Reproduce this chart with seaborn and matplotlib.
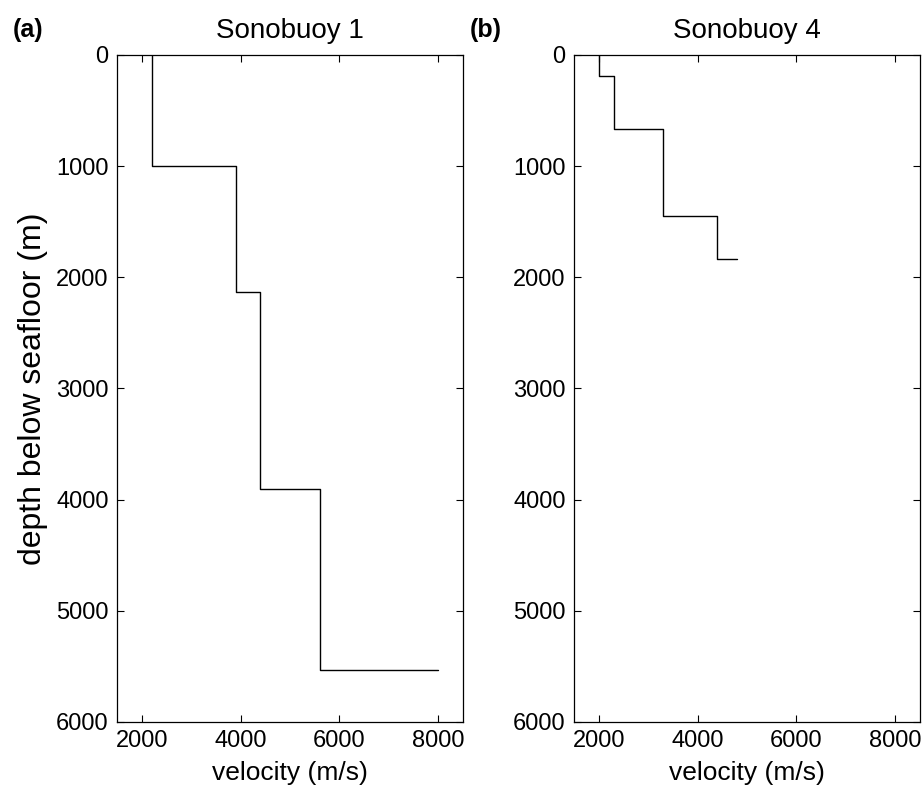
import numpy as np
import pandas as pd
import matplotlib
matplotlib.use("Agg")
import matplotlib.pyplot as plt
import seaborn as sns

# Layer velocities (m/s) and layer-top depths (m) below seafloor
s1_velocity = [2200, 3900, 4400, 5600, 8000]
s1_top_depth = [0, 1000, 2130, 3900, 5530]
s4_velocity = [2000, 2300, 3300, 4400, 4800]
s4_top_depth = [0, 190, 670, 1450, 1840]

titles = ["Sonobuoy 1", "Sonobuoy 4"]
panel_tags = ["(a)", "(b)"]
x_ticks = [2000, 4000, 6000, 8000]
y_ticks = [0, 1000, 2000, 3000, 4000, 5000, 6000]


def staircase(vel, tops):
    xs, ys = [], []
    for i in range(len(vel) - 1):
        xs += [vel[i], vel[i]]
        ys += [tops[i], tops[i + 1]]
    xs.append(vel[-1])
    ys.append(tops[-1])
    return pd.DataFrame({"velocity": xs, "depth": ys})


sns.set_style("ticks")
plt.rcParams["font.family"] = ["Liberation Sans", "DejaVu Sans"]
plt.rcParams["text.color"] = "black"
plt.rcParams["axes.labelcolor"] = "black"
plt.rcParams["xtick.color"] = "black"
plt.rcParams["ytick.color"] = "black"

fig = plt.figure(figsize=(9.23, 7.88), dpi=100)
positions = [[0.1268, 0.0838, 0.3748, 0.8465],
             [0.6219, 0.0838, 0.3748, 0.8465]]
datasets = [(s1_velocity, s1_top_depth), (s4_velocity, s4_top_depth)]

for k, (pos, (vel, tops)) in enumerate(zip(positions, datasets)):
    ax = fig.add_axes(pos)
    df = staircase(vel, tops)
    sns.lineplot(data=df, x="velocity", y="depth", sort=False, estimator=None,
                 color="black", linewidth=1.0, ax=ax)
    ax.set_xlim(1500, 8500)
    ax.set_ylim(6000, 0)
    ax.set_xticks(x_ticks)
    ax.set_yticks(y_ticks)
    ax.tick_params(direction="in", length=5, width=0.8, top=True, right=True,
                   labelsize=17, colors="black", pad=6)
    for sp in ax.spines.values():
        sp.set_visible(True)
        sp.set_color("black")
        sp.set_linewidth(0.9)
    ax.set_xlabel("velocity (m/s)", fontsize=19, labelpad=6, color="black")
    if k == 0:
        ax.set_ylabel("depth below seafloor (m)", fontsize=23, labelpad=6,
                      color="black")
    else:
        ax.set_ylabel("")
    ax.set_title(titles[k], fontsize=20, pad=12, color="black")
    fig.text(pos[0] - 0.113, 0.962, panel_tags[k], fontsize=18,
             fontweight="bold", ha="left", va="center", color="black")

fig.savefig("out.png", dpi=100)
